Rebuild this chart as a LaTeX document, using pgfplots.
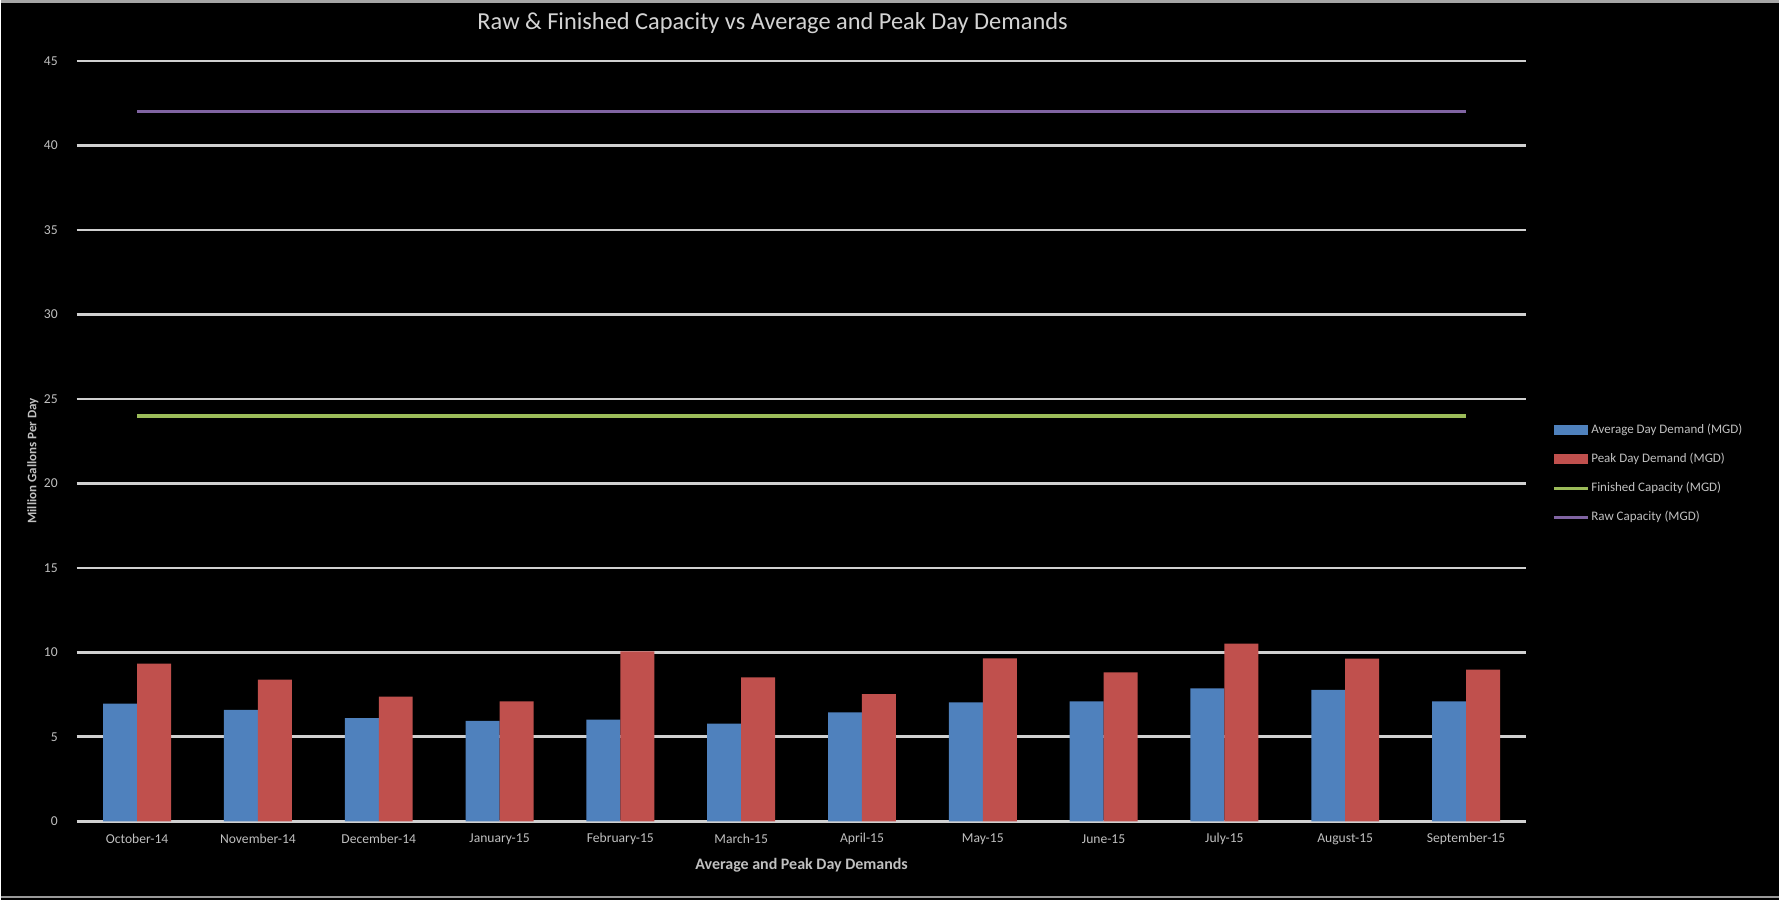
\documentclass[border=0pt]{standalone}
\usepackage{pgfplots}
\pgfplotsset{compat=1.18}
\usepackage{fontspec}
\setmainfont{Carlito}
\definecolor{avgblue}{HTML}{4F81BD}
\definecolor{peakred}{HTML}{C0504D}
\definecolor{fingreen}{HTML}{9BBB59}
\definecolor{rawpurple}{HTML}{8064A2}
\definecolor{gridgray}{HTML}{D0D0D0}
\definecolor{txtgray}{HTML}{C0C0C0}
\begin{document}
\begin{tikzpicture}
\fill[black] (-38pt,-39.5pt) rectangle (852pt,411pt);
\fill[gray!70] (-38pt,409.5pt) rectangle (852pt,411pt);
\draw[gray!80, line width=0.8pt] (-38pt,-37.8pt) -- (852pt,-37.8pt);
\begin{axis}[
  scale only axis,
  width=725.5pt, height=380.5pt,
  xmin=-0.5, xmax=11.5,
  ymin=0, ymax=45,
  ytick={0,5,...,45},
  xtick={0,...,11},
  xticklabels={October-14,November-14,December-14,January-15,February-15,March-15,April-15,May-15,June-15,July-15,August-15,September-15},
  axis line style={draw=none},
  tick style={draw=none},
  ymajorgrids,
  grid style={gridgray, line width=1.3pt},
  /pgf/number format/assume math mode=true,
  ticklabel style={font=\fontsize{6.8}{8}\selectfont, text=txtgray},
  xticklabel style={anchor=center, yshift=-9pt},
  yticklabel style={anchor=east, xshift=-6pt},
  title={Raw \& Finished Capacity vs Average and Peak Day Demands},
  title style={at={(axis description cs:0.48,1.034)}, anchor=center, font=\fontsize{12.2}{14}\selectfont, text=txtgray!70!white},
  xlabel={Average and Peak Day Demands},
  every axis x label/.style={at={(axis description cs:0.5,0)}, yshift=-22pt, anchor=center, font=\bfseries\fontsize{8}{9}\selectfont, text=txtgray},
  ylabel={Million Gallons Per Day},
  every axis y label/.style={at={(axis description cs:0,0.474)}, xshift=-22pt, rotate=90, anchor=center, font=\bfseries\fontsize{6.5}{7.5}\selectfont, text=txtgray},
  legend style={at={(axis description cs:1.018,0.524)}, anchor=north west, draw=none, fill=none, inner sep=0pt, outer sep=0pt,
    font=\fontsize{6.5}{7}\selectfont, text=txtgray, row sep=7.0pt,
    nodes={inner sep=0.5pt, text height=5pt, text depth=1.5pt},
    /tikz/every odd column/.append style={column sep=0.5pt}},
  legend cell align=left,
]
\addplot[ybar, bar width=17pt, bar shift=-8.5pt, fill=avgblue, draw=none,
  legend image code/.code={\fill[avgblue] (0pt,-2.5pt) rectangle (17pt,2.5pt);}]
  coordinates {(0,6.97) (1,6.59) (2,6.10) (3,5.94) (4,6.02) (5,5.78) (6,6.44) (7,7.03) (8,7.09) (9,7.86) (10,7.77) (11,7.09)};
\addlegendentry{Average Day Demand (MGD)}
\addplot[ybar, bar width=17pt, bar shift=8.5pt, fill=peakred, draw=none,
  legend image code/.code={\fill[peakred] (0pt,-2.5pt) rectangle (17pt,2.5pt);}]
  coordinates {(0,9.33) (1,8.39) (2,7.38) (3,7.10) (4,10.06) (5,8.52) (6,7.53) (7,9.64) (8,8.81) (9,10.51) (10,9.62) (11,8.98)};
\addlegendentry{Peak Day Demand (MGD)}
\addplot[fingreen, line width=1.8pt, mark=none,
  legend image code/.code={\draw[fingreen, line width=1.4pt] (0pt,0pt) -- (17pt,0pt);}]
  coordinates {(0,24) (1,24) (2,24) (3,24) (4,24) (5,24) (6,24) (7,24) (8,24) (9,24) (10,24) (11,24)};
\addlegendentry{Finished Capacity (MGD)}
\addplot[rawpurple, line width=1.8pt, mark=none,
  legend image code/.code={\draw[rawpurple, line width=1.4pt] (0pt,0pt) -- (17pt,0pt);}]
  coordinates {(0,42) (1,42) (2,42) (3,42) (4,42) (5,42) (6,42) (7,42) (8,42) (9,42) (10,42) (11,42)};
\addlegendentry{Raw Capacity (MGD)}
\end{axis}
\end{tikzpicture}
\end{document}
